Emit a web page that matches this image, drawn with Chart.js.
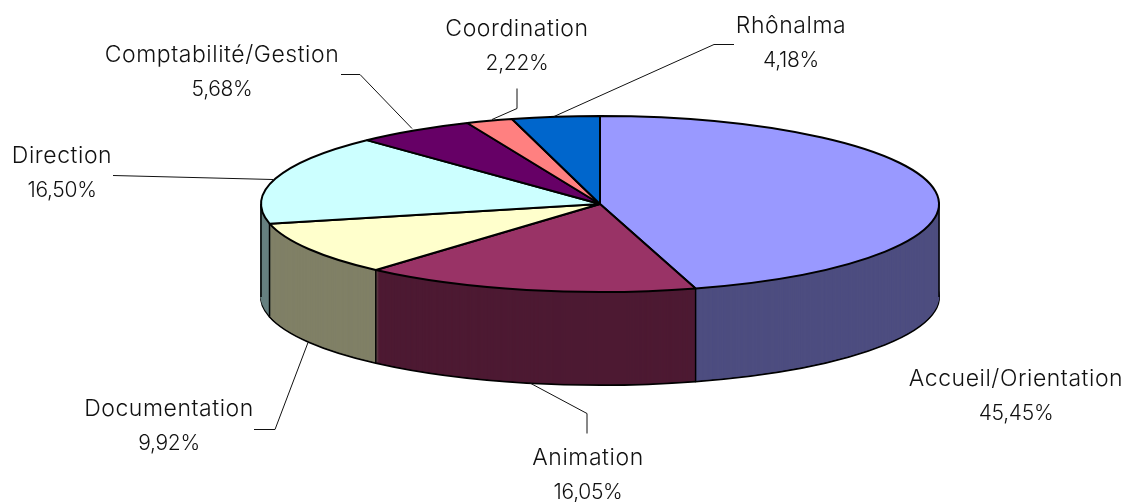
<!DOCTYPE html>
<html lang="fr">
<head>
<meta charset="utf-8">
<style>html,body{margin:0;padding:0;background:#fff}canvas{display:block}</style>
<script src="https://cdn.jsdelivr.net/npm/chart.js@4"></script>
</head>
<body>
<canvas id="c" width="1127" height="502"></canvas>
<script>
const categories = ['Accueil/Orientation','Animation','Documentation','Direction','Comptabilité/Gestion','Coordination','Rhônalma'];
const shares = [45.45,16.05,9.92,16.50,5.68,2.22,4.18];
const topColors = ['#9999ff','#993366','#ffffcc','#ccffff','#660066','#ff8080','#0066cc'];
const wallColors = ['#4d4d80','#4d1a33','#808066','#668080','#330033','#804040','#003366'];

const labelCentres = [[1016,379],[588,458],[169,409],[62,156],[222,55],[517,29],[791,26]];
const lineGap = 35;
const leaders = [
  null,
  [[587,433],[587,413],[529,382]],
  [[254,429],[275,429],[308,342]],
  [[113,175],[273,179]],
  [[341,74],[360,74],[412,128]],
  [[517,88],[517,108],[492,119]],
  [[734,44],[714,44],[554,116]]
];
const ellipse = {cx:600, cy:204, rx:339, ry:88, depth:93};
const fontSpec = '300 23px Inter';
const fontTracking = '0.55px';
const numberFontSpec = '300 21px Inter';
const numberTracking = '-0.3px';

function applyEllipse(ctx, arc, dy){
  ctx.translate(ellipse.cx, ellipse.cy + dy);
  ctx.scale(ellipse.rx / arc.outerRadius, ellipse.ry / arc.outerRadius);
  ctx.translate(-arc.x, -arc.y);
}
function evenStroke(ctx){
  const s = ctx.stroke;
  ctx.stroke = function(){
    ctx.save();
    ctx.setTransform(1,0,0,1,0,0);
    s.call(ctx);
    ctx.restore();
  };
}
const pie3d = {
  id:'pie3d',
  beforeDatasetDraw(chart){
    const ctx = chart.ctx, arcs = chart.getDatasetMeta(0).data;
    evenStroke(ctx);
    for(let d = ellipse.depth; d >= 1; d--){
      arcs.forEach((arc,i)=>{
        const saved = arc.options;
        const last = d === ellipse.depth;
        arc.options = Object.assign({}, saved, {
          backgroundColor: wallColors[i],
          borderColor: last ? '#000' : wallColors[i],
          borderWidth: last ? saved.borderWidth : 0.6
        });
        ctx.save();
        applyEllipse(ctx, arc, d);
        arc.draw(ctx);
        ctx.restore();
        arc.options = saved;
      });
    }
    delete ctx.stroke;
    // wall edges
    ctx.save();
    ctx.strokeStyle = '#000';
    ctx.lineWidth = 1.5;
    const ext = [0, Math.PI];
    const edge = a => {
      const x = ellipse.cx + ellipse.rx*Math.cos(a), y = ellipse.cy + ellipse.ry*Math.sin(a);
      ctx.beginPath(); ctx.moveTo(x,y); ctx.lineTo(x,y+ellipse.depth); ctx.stroke();
    };
    arcs.forEach(arc => { if(Math.sin(arc.startAngle) > 0) edge(arc.startAngle); });
    ext.forEach(edge);
    ctx.restore();
    // top face: the library draws it under this transform
    ctx.save();
    applyEllipse(ctx, arcs[0], 0);
    evenStroke(ctx);
  },
  afterDatasetDraw(chart){
    const ctx = chart.ctx;
    delete ctx.stroke;
    ctx.restore();
  },
  afterDraw(chart){
    const ctx = chart.ctx;
    ctx.save();
    ctx.strokeStyle = '#111';
    ctx.lineWidth = 1;
    leaders.forEach(pts=>{
      if(!pts) return;
      ctx.beginPath();
      pts.forEach((p,i)=> i ? ctx.lineTo(p[0],p[1]+.5) : ctx.moveTo(p[0],p[1]+.5));
      ctx.stroke();
    });
    ctx.fillStyle = '#111';
    ctx.textAlign = 'center';
    ctx.textBaseline = 'middle';
    categories.forEach((name,i)=>{
      const [x,y] = labelCentres[i];
      ctx.font = fontSpec;
      ctx.letterSpacing = fontTracking;
      ctx.fillText(name, x, y);
      ctx.font = numberFontSpec;
      ctx.letterSpacing = numberTracking;
      ctx.fillText(shares[i].toFixed(2).replace('.',',') + '%', x, y + lineGap);
    });
    ctx.restore();
  }
};
new Chart(document.getElementById('c'), {
  type:'pie',
  data:{labels:categories, datasets:[{data:shares, backgroundColor:topColors, borderColor:'#000', borderWidth:2, clip:false}]},
  options:{
    responsive:false, animation:false,
    layout:{padding:0},
    plugins:{legend:{display:false}, tooltip:{enabled:false}, title:{display:false}}
  },
  plugins:[pie3d]
});
</script>
</body>
</html>
